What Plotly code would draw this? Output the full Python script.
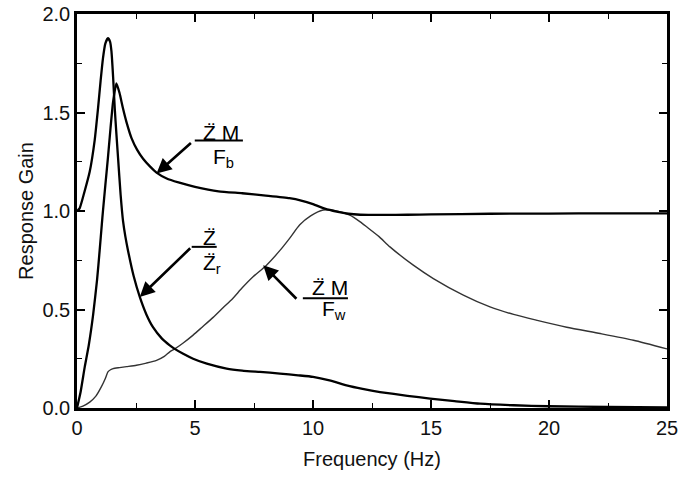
import plotly.graph_objects as go

# Z''M/Fb  (thick, starts at 0, peaks ~1.65, settles ~0.99)
fb_x = [0, 0.15, 0.33, 0.5, 0.68, 0.85, 0.96, 1.05, 1.1, 1.2, 1.31, 1.42, 1.53, 1.67, 1.8, 1.95, 2.1,
        2.31, 2.55, 2.8, 3.1, 3.37, 3.8, 4.3, 5.0, 6.0, 7.0, 8.0, 9.0, 9.5, 10.0, 10.5, 11.0,
        11.5, 12.0, 13.0, 14.0, 15.0, 17.5, 20.0, 22.5, 25.0]
fb_y = [0, 0.08, 0.21, 0.32, 0.47, 0.65, 0.80, 0.93, 1.0, 1.13, 1.27, 1.42, 1.555, 1.648, 1.60, 1.52,
        1.45, 1.37, 1.31, 1.265, 1.225, 1.195, 1.165, 1.145, 1.123, 1.10, 1.09, 1.078, 1.065,
        1.053, 1.035, 1.012, 0.997, 0.986, 0.981, 0.980, 0.981, 0.983, 0.986, 0.987, 0.988, 0.988]

# Z''/Z''r  (thick, starts at 1.0, peaks ~1.88, decays to 0)
zr_x = [0, 0.11, 0.3, 0.54, 0.75, 0.89, 1.0, 1.1, 1.2, 1.31, 1.4, 1.46, 1.53, 1.6, 1.67, 1.74,
        1.85, 1.95, 2.05, 2.16, 2.4, 2.66, 2.94, 3.22, 3.6, 3.93, 4.14, 4.5, 4.92, 5.5, 6.34,
        7.0, 7.75, 8.6, 9.37, 10.0, 10.7, 11.42, 12.1, 12.84, 14.0, 14.96, 16.0, 17.08, 18.5,
        20.0, 22.5, 25.0]
zr_y = [1.0, 1.013, 1.09, 1.2, 1.36, 1.52, 1.66, 1.775, 1.85, 1.877, 1.86, 1.81, 1.68, 1.52, 1.39,
        1.27, 1.08, 0.95, 0.87, 0.80, 0.67, 0.564, 0.475, 0.41, 0.352, 0.318, 0.30, 0.275, 0.25,
        0.225, 0.20, 0.19, 0.183, 0.175, 0.166, 0.158, 0.14, 0.115, 0.097, 0.081, 0.062, 0.048,
        0.035, 0.022, 0.014, 0.009, 0.005, 0.003]

# Z''M/Fw  (thin, plateau ~0.2, peak ~1.0 near 10.5 Hz)
fw_x = [0, 0.25, 0.54, 0.8, 1.03, 1.2, 1.31, 1.42, 1.53, 1.8, 2.1, 2.52, 2.94, 3.37, 3.7, 3.93,
        4.14, 4.5, 4.92, 5.3, 5.77, 6.2, 6.6, 7.0, 7.46, 8.03, 8.6, 9.0, 9.44, 9.9, 10.43, 11.0,
        11.56, 12.0, 12.27, 12.8, 13.26, 14.25, 15.1, 16.37, 17.5, 18.5, 19.5, 20.75, 22.17,
        23.58, 25.0]
fw_y = [0, 0.01, 0.03, 0.06, 0.107, 0.15, 0.183, 0.194, 0.2, 0.205, 0.21, 0.217, 0.228, 0.242,
        0.262, 0.285, 0.30, 0.33, 0.37, 0.41, 0.46, 0.51, 0.556, 0.61, 0.666, 0.725, 0.80, 0.86,
        0.93, 0.975, 1.005, 1.0, 0.979, 0.945, 0.92, 0.87, 0.818, 0.725, 0.657, 0.573, 0.513,
        0.475, 0.445, 0.41, 0.378, 0.344, 0.30]

x_ticks = [0, 5, 10, 15, 20, 25]
y_ticks = [0, 0.5, 1.0, 1.5, 2.0]
y_tick_text = ["0.0", "0.5", "1.0", "1.5", "2.0"]

FONT = "Liberation Sans, Arial, Helvetica, sans-serif"
ZDD = "Z\u0308"

fig = go.Figure()
fig.add_trace(go.Scatter(x=fw_x, y=fw_y, mode="lines",
                         line=dict(color="#333333", width=1.4, shape="spline", smoothing=0.6)))
fig.add_trace(go.Scatter(x=zr_x, y=zr_y, mode="lines",
                         line=dict(color="black", width=2.3, shape="spline", smoothing=0.5)))
fig.add_trace(go.Scatter(x=fb_x, y=fb_y, mode="lines",
                         line=dict(color="black", width=2.3, shape="spline", smoothing=0.5)))

# label layout: (numerator text, num x, num y, bar x0, bar x1, bar y, denominator text, den x, den y,
#                arrow tip x, tip y, tail x, tail y)
labels = [
    (ZDD + " M", 6.12, 1.40, 4.99, 7.03, 1.358, "F<sub>b</sub>", 6.2, 1.27, 3.37, 1.19, 4.89, 1.352),
    (ZDD, 5.61, 0.867, 4.86, 5.92, 0.818, ZDD + "<sub>r</sub>", 5.72, 0.73, 2.66, 0.564, 4.86, 0.818),
    (ZDD + " M", 10.72, 0.611, 9.57, 11.48, 0.557, "F<sub>w</sub>", 10.91, 0.496, 7.89, 0.725, 9.36, 0.547),
]

for (nt, nx, ny, bx0, bx1, by, dt, dx, dy, tx, ty, ax, ay) in labels:
    fig.add_annotation(x=nx, y=ny, text=nt, showarrow=False, xanchor="center", yanchor="middle",
                       font=dict(family=FONT, size=21, color="black"))
    fig.add_annotation(x=dx, y=dy, text=dt, showarrow=False, xanchor="center", yanchor="middle",
                       font=dict(family=FONT, size=21, color="black"))
    fig.add_shape(type="line", x0=bx0, x1=bx1, y0=by, y1=by, xref="x", yref="y",
                  line=dict(color="black", width=2))
    fig.add_annotation(x=tx, y=ty, ax=ax, ay=ay, axref="x", ayref="y", text="", showarrow=True,
                       arrowhead=2, arrowsize=1.15, arrowwidth=2.6, arrowcolor="black", standoff=0)

fig.update_layout(
    width=684, height=477,
    margin=dict(l=77, r=17, t=14, b=69),
    paper_bgcolor="white", plot_bgcolor="white",
    showlegend=False,
    font=dict(family=FONT, size=20, color="#111111"),
)
fig.update_xaxes(
    range=[0, 25], tickvals=x_ticks, ticks="inside", ticklen=8, tickwidth=1.6, tickcolor="black",
    showline=True, linewidth=2.6, linecolor="black", mirror="ticks", showgrid=False, zeroline=False,
    minor=dict(dtick=2.5, tick0=0, ticks="inside", ticklen=5, tickwidth=1.3, tickcolor="black"),
    title=dict(text="Frequency (Hz)", font=dict(size=20), standoff=15),
    automargin=False,
)
fig.update_yaxes(
    range=[0, 2], tickvals=y_ticks, ticktext=y_tick_text, ticks="inside", ticklen=8, tickwidth=1.6,
    tickcolor="black", showline=True, linewidth=2.6, linecolor="black", mirror="ticks",
    showgrid=False, zeroline=False,
    minor=dict(dtick=0.25, tick0=0, ticks="inside", ticklen=5, tickwidth=1.3, tickcolor="black"),
    title=dict(text="Response Gain", font=dict(size=20), standoff=4),
    automargin=False,
)

fig.write_html("out.html")
